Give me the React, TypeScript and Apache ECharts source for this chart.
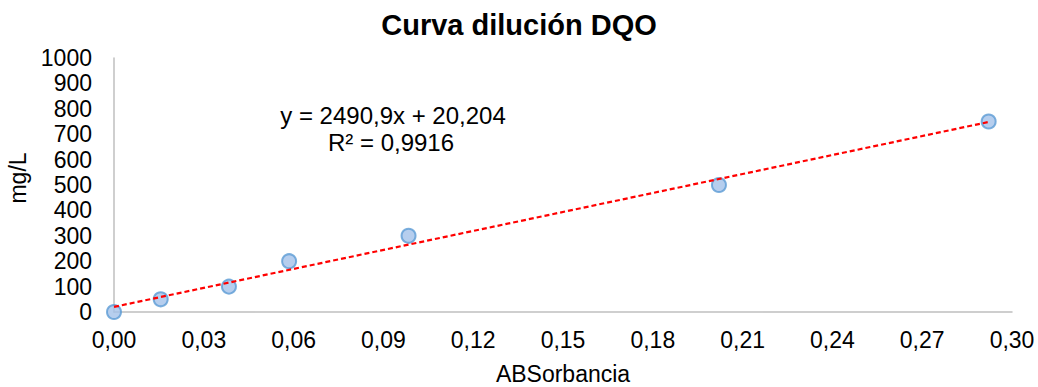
import React, { useEffect, useRef } from "react";
import * as echarts from "echarts";

const absorbance = [0, 0.0156, 0.0384, 0.0585, 0.0984, 0.2021, 0.2922];
const concentration = [0, 50, 100, 200, 300, 500, 750];
const trendSlope = 2490.9;
const trendIntercept = 20.204;
const rSquared = "0,9916";
const titleText = "Curva dilución DQO";
const xAxisName = "ABSorbancia";
const yAxisName = "mg/L";

export default function App() {
  const ref = useRef<HTMLDivElement>(null);
  useEffect(() => {
    if (!ref.current) return;
    const chart = echarts.init(ref.current, null, { renderer: "svg" });
    const points = absorbance.map((x, i) => [x, concentration[i]]);
    const xMin = Math.min(...absorbance);
    const xMax = Math.max(...absorbance);
    const trend = [
      [xMin, trendSlope * xMin + trendIntercept],
      [xMax, trendSlope * xMax + trendIntercept],
    ];
    const font = "'Liberation Sans', Arial, sans-serif";
    chart.setOption({
      animation: false,
      backgroundColor: "#ffffff",
      textStyle: { fontFamily: font },
      title: {
        text: titleText,
        left: "center",
        top: 5,
        textStyle: { fontSize: 29, fontWeight: "bold", color: "#000", fontFamily: font },
      },
      grid: {
        left: 114,
        right: 26,
        top: 58,
        bottom: 75,
        containLabel: false,
        outerBoundsMode: "none",
      },
      xAxis: {
        type: "value",
        min: 0,
        max: 0.3,
        interval: 0.03,
        name: xAxisName,
        nameLocation: "middle",
        nameGap: 50,
        nameTextStyle: { fontSize: 23, color: "#000", fontFamily: font },
        axisLine: { show: true, onZero: false, lineStyle: { color: "#bfbfbf", width: 1.5 } },
        axisTick: { show: false },
        splitLine: { show: false },
        axisLabel: {
          fontSize: 23,
          color: "#000",
          margin: 16,
          fontFamily: font,
          formatter: (v: number) => v.toFixed(2).replace(".", ","),
        },
      },
      yAxis: {
        type: "value",
        min: 0,
        max: 1000,
        interval: 100,
        name: yAxisName,
        nameLocation: "middle",
        nameGap: 83,
        nameTextStyle: { fontSize: 23, color: "#000", fontFamily: font, padding: [0, 0, 0, 14] },
        axisLine: { show: true, lineStyle: { color: "#bfbfbf", width: 1.5 } },
        axisTick: { show: false },
        splitLine: { show: false },
        axisLabel: {
          fontSize: 23,
          color: "#000",
          margin: 22,
          fontFamily: font,
          formatter: (v: number) => String(Math.round(v)),
        },
      },
      series: [
        {
          type: "scatter",
          data: points,
          symbol: "circle",
          symbolSize: 14,
          itemStyle: { color: "#a4c2ea", borderColor: "#5b9bd5", borderWidth: 2 },
          z: 2,
        },
        {
          type: "line",
          data: trend,
          symbol: "none",
          lineStyle: { color: "#ff0000", width: 2.2, type: [5, 3] },
          z: 3,
        },
      ],
      graphic: [
        {
          type: "text",
          x: 393,
          y: 115,
          style: {
            text: `y = ${String(trendSlope).replace(".", ",")}x + ${String(trendIntercept).replace(".", ",")}`,
            fontSize: 24,
            fill: "#000",
            fontFamily: font,
            textAlign: "center",
            textVerticalAlign: "middle",
          },
        },
        {
          type: "text",
          x: 391,
          y: 142,
          style: {
            text: `R² = ${rSquared}`,
            fontSize: 24,
            fill: "#000",
            fontFamily: font,
            textAlign: "center",
            textVerticalAlign: "middle",
          },
        },
      ],
    });
    return () => chart.dispose();
  }, []);
  return (
    <div
      ref={ref}
      style={{ position: "fixed", left: 0, top: 0, width: 1038, height: 387 }}
    />
  );
}
